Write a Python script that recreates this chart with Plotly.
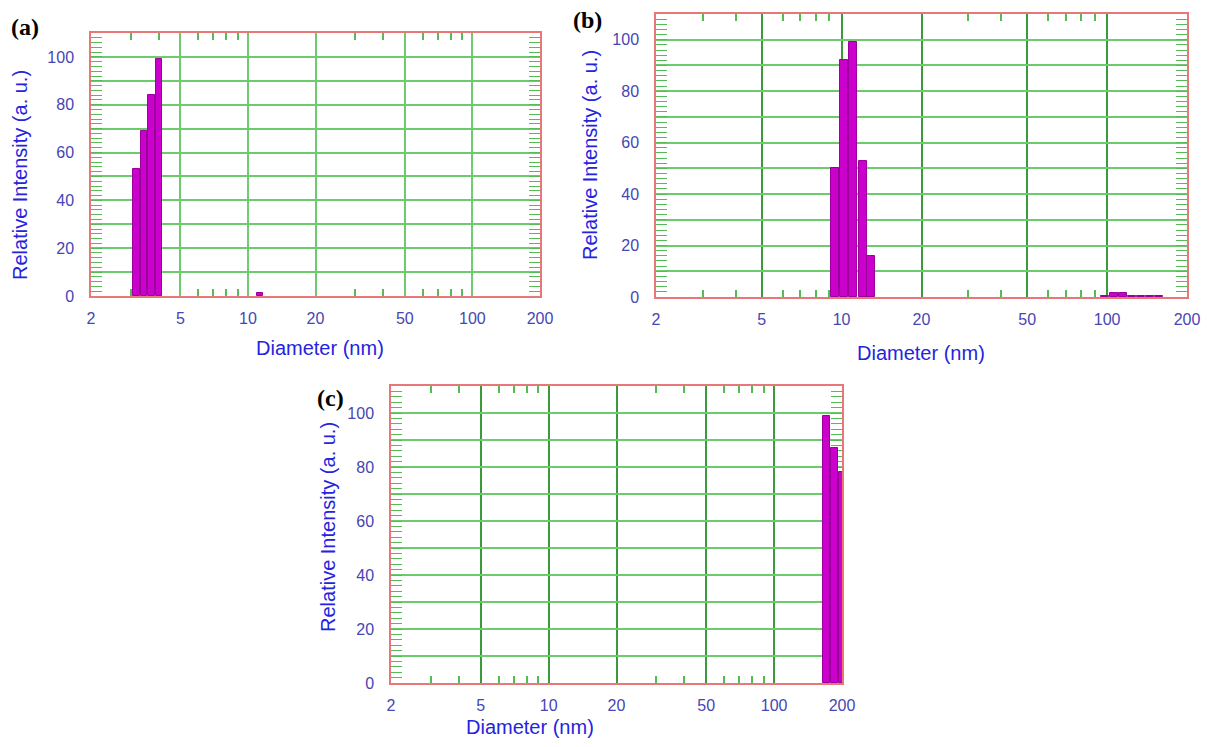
import numpy as np
import plotly.graph_objects as go

# ---------------- data ----------------
# panel (a)
diam_a = [3.19, 3.44, 3.72, 4.02, 11.3]
int_a = [53, 69, 84, 99, 1.2]
# panel (b)
diam_b = [9.42, 10.2, 11.04, 12.0, 12.9, 98.0, 106.0, 115.0, 124.0, 134.0, 145.0, 157.0]
int_b = [50, 92, 99, 53, 16, 0.5, 1.5, 1.5, 0.4, 0.3, 0.3, 0.2]
# panel (c)
diam_c = [170.6, 185.0, 200.0]
int_c = [99, 87, 78]

x_tick_vals = [2, 5, 10, 20, 50, 100, 200]
x_tick_text = ["2", "5", "10", "20", "50", "100", "200"]
x_minor_vals = [3, 4, 6, 7, 8, 9, 30, 40, 60, 70, 80, 90]
y_tick_vals = [0, 10, 20, 30, 40, 50, 60, 70, 80, 90, 100]
y_tick_text = ["0", "", "20", "", "40", "", "60", "", "80", "", "100"]

x_title = "Diameter (nm)"
y_title = "Relative Intensity (a. u.)"
panel_labels = ["(a)", "(b)", "(c)"]

# ---------------- styling ----------------
BAR_FILL = "#CC00CC"
BAR_EDGE = "#9A009A"
GRID_H = "#6CCB6C"
GRID_V_A = "#6CCB6C"
GRID_V = "#3C9A3C"
FRAME = "#E87878"
TICK_GREEN = "#55BB55"
TICK_LABEL = "#4646B4"
TITLE_BLUE = "#2424E0"
W, H = 1207, 747

def px_x(p):
    return p / W

def px_y(p):
    return 1 - p / H

panels = [
    dict(d=diam_a, v=int_a, xd=(91, 540), yd=(33, 296), vgrid=GRID_V_A, bw=0.029),
    dict(d=diam_b, v=int_b, xd=(656, 1187), yd=(14, 297), vgrid=GRID_V, bw=0.030),
    dict(d=diam_c, v=int_c, xd=(391, 842), yd=(386, 683), vgrid=GRID_V, bw=0.031),
]

tick_font = dict(family="Liberation Sans, Arial", size=16, color=TICK_LABEL)

fig = go.Figure()
layout = {}
for i, p in enumerate(panels):
    n = "" if i == 0 else str(i + 1)
    fig.add_trace(go.Bar(
        x=np.log10(p["d"]), y=p["v"],
        width=p["bw"],
        marker=dict(color=BAR_FILL, line=dict(color=BAR_EDGE, width=1)),
        xaxis="x" + n, yaxis="y" + n, showlegend=False,
    ))
    layout["xaxis" + n] = dict(
        domain=[px_x(p["xd"][0]), px_x(p["xd"][1])],
        anchor="y" + n, automargin=False,
        range=[np.log10(2), np.log10(200)],
        tickmode="array",
        tickvals=np.log10(x_tick_vals), ticktext=x_tick_text,
        ticks="", showgrid=True, gridcolor=p["vgrid"], gridwidth=1.5,
        showline=True, linecolor=FRAME, linewidth=1.5, mirror="ticks",
        zeroline=False, layer="below traces",
        tickfont=tick_font,
        ticklabelstandoff=7,
        minor=dict(tickmode="array", tickvals=np.log10(x_minor_vals), ticks="inside",
                   ticklen=7, tickwidth=1.5, tickcolor=TICK_GREEN, showgrid=False),
    )
    layout["yaxis" + n] = dict(
        domain=[px_y(p["yd"][1]), px_y(p["yd"][0])],
        anchor="x" + n, automargin=False,
        range=[0, 110],
        tickmode="array", tickvals=y_tick_vals, ticktext=y_tick_text,
        ticks="inside", ticklen=11, tickcolor=TICK_GREEN, tickwidth=1,
        showgrid=True, gridcolor=GRID_H, gridwidth=1.5,
        showline=True, linecolor=FRAME, linewidth=1.5, mirror="ticks",
        zeroline=False, layer="below traces",
        tickfont=tick_font,
        ticklabelstandoff=12,
        minor=dict(dtick=2, tick0=0, ticks="inside", ticklen=11, tickwidth=1,
                   tickcolor=TICK_GREEN, showgrid=False),
    )

ann = []
title_font = dict(family="Liberation Sans, Arial", size=20, color=TITLE_BLUE)
label_font = dict(family="Liberation Serif, Times New Roman", size=24, color="black")
x_title_pos = [(320, 348), (921, 353), (530, 727)]
y_title_pos = [(20, 175), (590, 155), (328, 527)]
label_pos = [(25, 27), (587, 20), (330, 398)]
for i in range(3):
    ann.append(dict(text=x_title, x=px_x(x_title_pos[i][0]), y=px_y(x_title_pos[i][1]),
                    xref="paper", yref="paper", showarrow=False, font=title_font,
                    xanchor="center", yanchor="middle"))
    ann.append(dict(text=y_title, x=px_x(y_title_pos[i][0]), y=px_y(y_title_pos[i][1]),
                    xref="paper", yref="paper", showarrow=False, font=title_font,
                    textangle=-90, xanchor="center", yanchor="middle"))
    ann.append(dict(text="<b>" + panel_labels[i] + "</b>", x=px_x(label_pos[i][0]),
                    y=px_y(label_pos[i][1]), xref="paper", yref="paper",
                    showarrow=False, font=label_font, xanchor="center", yanchor="middle"))

fig.update_layout(
    width=W, height=H,
    margin=dict(l=0, r=0, t=0, b=0, autoexpand=False),
    paper_bgcolor="white", plot_bgcolor="white",
    bargap=0,
    annotations=ann,
    **layout,
)

fig.write_html(
    "out.html",
    config={"displayModeBar": False},
    post_script="document.body.style.margin='0';document.body.style.overflow='hidden';",
)
